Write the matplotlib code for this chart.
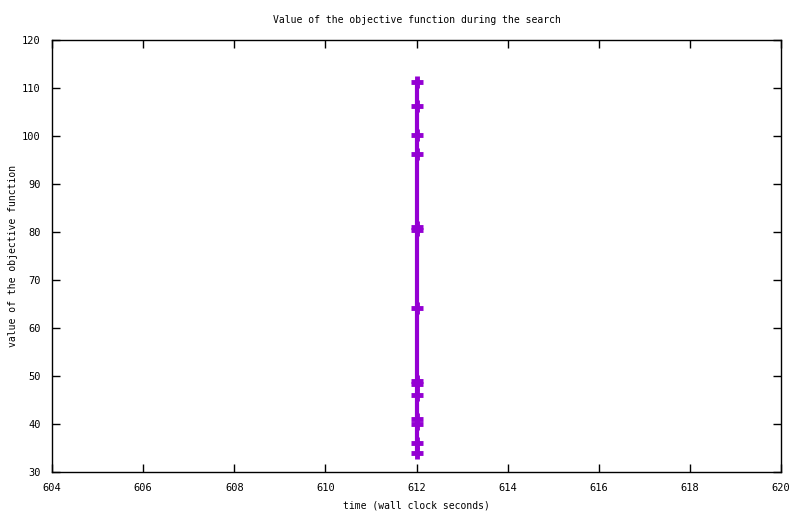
import matplotlib
matplotlib.use("Agg")
import matplotlib.pyplot as plt

# objective value samples, all logged at the same wall clock second
times = [612, 612, 612, 612, 612, 612, 612, 612, 612, 612, 612, 612, 612, 612]
values = [111.3, 106.3, 100.2, 96.3, 81.0, 80.4, 64.2, 49.0, 48.3, 46.0, 41.0, 40.0, 36.0, 34.0]

x_ticks = [604, 606, 608, 610, 612, 614, 616, 618, 620]
y_ticks = [30, 40, 50, 60, 70, 80, 90, 100, 110, 120]

plt.rcParams["font.family"] = ["DejaVu Sans Mono"]
plt.rcParams["font.size"] = 7

fig = plt.figure(figsize=(8.0, 5.14), dpi=100)
ax = fig.add_axes([52 / 800, 1 - 472 / 514, (781 - 52) / 800, (472 - 40) / 514])

ax.plot(times, values, color="#9400d3", lw=3, marker="+", ms=9, mew=3.5,
        solid_capstyle="butt")

ax.set_xlim(604, 620)
ax.set_ylim(30, 120)
ax.set_xticks(x_ticks)
ax.set_yticks(y_ticks)
ax.tick_params(direction="in", length=6, width=1, top=True, right=True, pad=8,
               labelsize=7.5)
for sp in ax.spines.values():
    sp.set_linewidth(1)

ax.set_xlabel("time (wall clock seconds)", labelpad=5)
ax.set_ylabel("value of the objective function", labelpad=3)
ax.set_title("Value of the objective function during the search", pad=12, fontsize=7)

fig.savefig("out.png", dpi=100)
